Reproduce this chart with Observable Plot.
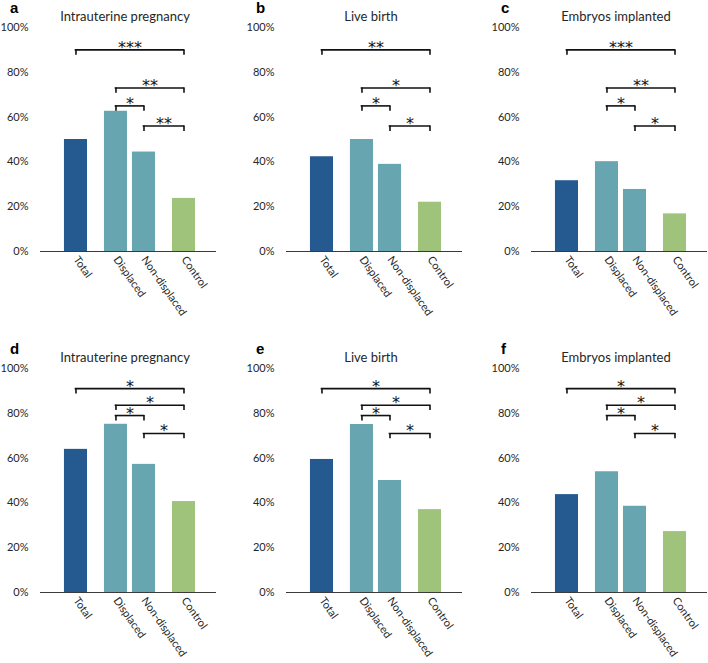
<!DOCTYPE html>
<html><head><meta charset="utf-8">
<script src="https://cdn.jsdelivr.net/npm/d3@7"></script>
<script src="https://cdn.jsdelivr.net/npm/@observablehq/plot@0.6"></script>
<style>
body{margin:0;background:#fff;overflow:hidden;}
#root{position:relative;width:708px;height:663px;overflow:hidden;font-family:Lato,"Open Sans",sans-serif;color:#262626;}
.panel{position:absolute;width:246px;}
.panel svg{overflow:visible;max-width:none !important;}
.letter{position:absolute;font:bold 15px/15px "Liberation Sans",Arial,sans-serif;color:#000;}
.title{position:absolute;font-size:13px;line-height:13px;white-space:nowrap;transform:translateX(-50%);color:#262626;}
</style></head>
<body><div id="root"></div>
<script>
// ---- data ----
const categories = ["Total", "Displaced", "Non-displaced", "Control"];
const panelLetters = ["a", "b", "c", "d", "e", "f"];
const panelTitles = ["Intrauterine pregnancy", "Live birth", "Embryos implanted",
                     "Intrauterine pregnancy", "Live birth", "Embryos implanted"];
const valuesA = [50.0, 62.6, 44.4, 23.7];
const valuesB = [42.3, 50.0, 38.9, 22.0];
const valuesC = [31.6, 40.1, 27.7, 16.8];
const valuesD = [63.9, 75.1, 57.2, 40.6];
const valuesE = [59.4, 75.0, 50.0, 37.0];
const valuesF = [43.7, 53.9, 38.5, 27.2];
const yTicks = [0, 20, 40, 60, 80, 100];
const bracketFrom = ["Total", "Displaced", "Displaced", "Non-displaced"];
const bracketTo = ["Control", "Control", "Non-displaced", "Control"];
const bracketLevelsTop = [90, 73, 65, 56];
const bracketLevelsBottom = [91, 83.6, 79, 71];
const starsA = ["***", "**", "*", "**"];
const starsB = ["**", "*", "*", "*"];
const starsC = ["***", "**", "*", "*"];
const starsD = ["*", "*", "*", "*"];
const starsE = ["*", "*", "*", "*"];
const starsF = ["*", "*", "*", "*"];

const panelValues = [valuesA, valuesB, valuesC, valuesD, valuesE, valuesF];
const panelStars = [starsA, starsB, starsC, starsD, starsE, starsF];

// ---- styles ----
const barColors = ["#255a91", "#67a5b0", "#67a5b0", "#9fc37a"];
const shift = {"Total": 0, "Displaced": 4, "Non-displaced": -4, "Control": 0};
const colX = [0, 246, 491];
const rowY = [0, 341];
const rowH = [341, 322];
const W = 246, ML = 40, MR = 30, MT = 27;
const xOpts = {domain: categories, paddingInner: 0.36, paddingOuter: 0.624, align: 0.533, round: false};

const root = document.getElementById("root");

for (let p = 0; p < 6; p++) {
  const row = Math.floor(p / 3), col = p % 3;
  const H = rowH[row];
  const MB = H - 251;
  const levels = row === 0 ? bracketLevelsTop : bracketLevelsBottom;
  const data = categories.map((c, i) => ({cat: c, value: panelValues[p][i]}));
  const brackets = bracketFrom.map((a, i) => ({a, b: bracketTo[i], level: levels[i], label: panelStars[p][i]}));

  const xs = Plot.scale({x: {...xOpts, type: "band", range: [ML, W - MR]}});
  const bw = xs.bandwidth;
  const center = c => xs.apply(c) + bw / 2 + shift[c];

  const marks = [];
  categories.forEach(c => {
    marks.push(Plot.barY(data, {filter: d => d.cat === c, x: "cat", y: "value", fill: "cat", dx: shift[c]}));
    marks.push(Plot.text([c], {x: d => d, frameAnchor: "bottom", dy: 6, dx: shift[c], rotate: 55,
      textAnchor: "start", lineAnchor: "middle", fontSize: 11, fill: "#262626"}));
  });
  marks.push(Plot.ruleY([0], {stroke: "#3a3a3a", strokeWidth: 1}));
  brackets.forEach(br => {
    const st = {stroke: "#111", strokeWidth: 1.6};
    marks.push(Plot.ruleY([br], {x1: "a", x2: "b", y: "level", insetLeft: bw / 2 + shift[br.a] - 0.8, insetRight: bw / 2 - shift[br.b] - 0.8, ...st}));
    marks.push(Plot.ruleX([br], {x: "a", y1: "level", y2: d => d.level - 2.4, dx: shift[br.a], ...st}));
    marks.push(Plot.ruleX([br], {x: "b", y1: "level", y2: d => d.level - 2.4, dx: shift[br.b], ...st}));
    const mid = (center(br.a) + center(br.b)) / 2;
    marks.push(Plot.text([br], {x: "a", y: "level", text: "label", dx: mid - (xs.apply(br.a) + bw / 2),
      dy: 3, lineAnchor: "bottom", fontSize: 16, fontFamily: "'DejaVu Sans', sans-serif", fill: "#111", textAnchor: "middle"}));
  });

  const svg = Plot.plot({
    width: W, height: H,
    marginLeft: ML, marginRight: MR, marginTop: MT, marginBottom: MB,
    x: {...xOpts, axis: null},
    y: {domain: [0, 100], ticks: yTicks, tickSize: 0, tickPadding: 12, tickFormat: d => d + "%", label: null},
    color: {domain: categories, range: barColors},
    style: {fontFamily: "Lato, 'Open Sans', sans-serif", fontSize: "11px", color: "#262626", background: "transparent", maxWidth: "none"},
    marks
  });

  const div = document.createElement("div");
  div.className = "panel";
  div.style.left = colX[col] + "px";
  div.style.top = rowY[row] + "px";
  div.appendChild(svg);

  const letter = document.createElement("div");
  letter.className = "letter";
  letter.textContent = panelLetters[p];
  letter.style.left = "10px";
  letter.style.top = "0px";
  div.appendChild(letter);

  const title = document.createElement("div");
  title.className = "title";
  title.textContent = panelTitles[p];
  title.style.left = "125px";
  title.style.top = "10px";
  div.appendChild(title);

  root.appendChild(div);
}
</script>
</body></html>
